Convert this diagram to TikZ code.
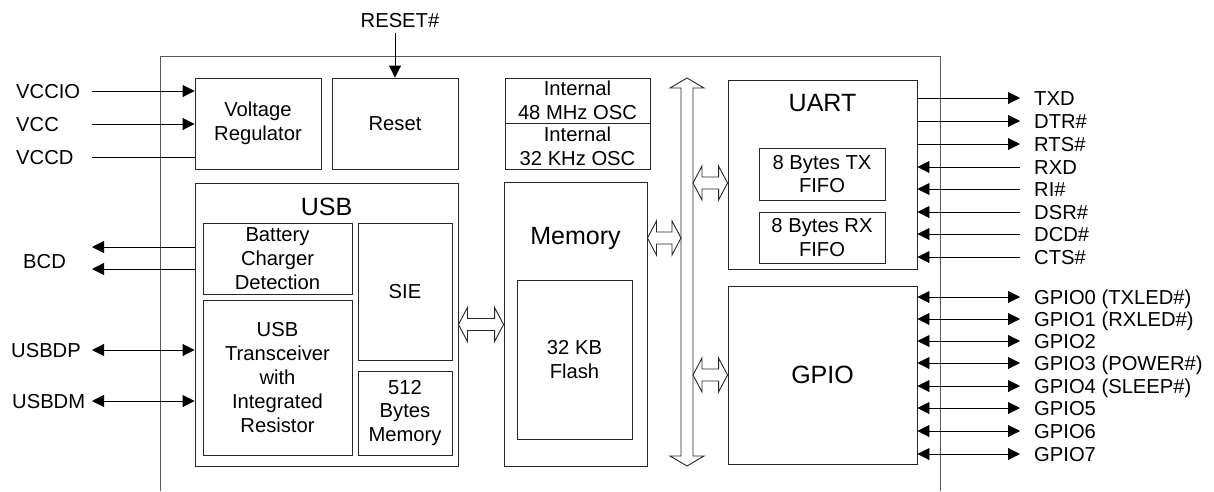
\documentclass[tikz,border=0pt]{standalone}
\usepackage{fontspec}
\setmainfont{Liberation Sans}
\usetikzlibrary{arrows.meta,calc}
\newcommand\fs{\fontsize{20.2}{23.8}\selectfont}
\newcommand\ft{\fontsize{25}{30}\selectfont}
\tikzset{
  box/.style={draw=black!85, line width=0.9pt, inner sep=0pt, align=center, font=\fs},
  ttl/.style={inner sep=0pt, font=\ft},
  lbl/.style={inner sep=0pt, font=\fs},
  sig/.style={line width=0.9pt, -{Triangle[length=12pt,width=12pt]}},
  bisig/.style={line width=0.9pt, {Triangle[length=12pt,width=12pt]}-{Triangle[length=12pt,width=12pt]}},
  plain/.style={line width=0.9pt},
  outer/.style={draw=black!65, line width=1pt},
  hollowarrow/.style={draw=black!85, line width=0.9pt, fill=white, line join=miter},
}
\newcommand\hollowH[2]{\draw[hollowarrow] let \p1=(#1), \p2=(#2) in
  (\x1,\y1) -- (\x1+9pt,\y1+17pt) -- (\x1+9pt,\y1+6pt) -- (\x2-9pt,\y1+6pt) -- (\x2-9pt,\y1+17pt)
  -- (\x2,\y1) -- (\x2-9pt,\y1-17pt) -- (\x2-9pt,\y1-6pt) -- (\x1+9pt,\y1-6pt) -- (\x1+9pt,\y1-17pt) -- cycle;}
\begin{document}
\begin{tikzpicture}[x=1pt,y=-1pt]
\useasboundingbox (0,0) rectangle (1214,491);
% chip outline (open at the bottom)
\draw[outer] (160,491) -- (160,56) -- (940,56) -- (940,491);

% boxes
\node[box, minimum width=126pt, minimum height=91pt] (vr) at (258,123.5) {Voltage\\Regulator};
\node[box, minimum width=126pt, minimum height=91pt] (rst) at (395,123.5) {Reset};
\node[box, minimum width=145pt, minimum height=45pt] (osc48) at (577.5,100.5) {Internal\\48 MHz OSC};
\node[box, minimum width=145pt, minimum height=46pt] (osc32) at (577.5,146) {Internal\\32 KHz OSC};

\node[box, minimum width=263pt, minimum height=283pt] (usb) at (326.5,324.5) {};
\node[ttl] (usbt) at (326.5,207) {USB};
\node[box, minimum width=149pt, minimum height=71pt] (bcd) at (277.5,258.5) {Battery\\Charger\\Detection};
\node[box, minimum width=149pt, minimum height=155pt] (xcvr) at (277.5,377.5) {USB\\Transceiver\\with\\Integrated\\Resistor};
\node[box, minimum width=94pt, minimum height=137pt] (sie) at (405,291.5) {SIE};
\node[box, minimum width=94pt, minimum height=84pt] (m512) at (405,413) {512\\Bytes\\Memory};

\node[box, minimum width=143pt, minimum height=284pt] (mem) at (575.5,324) {};
\node[ttl] (memt) at (575.5,238) {Memory};
\node[box, minimum width=115pt, minimum height=159pt] (flash) at (574.5,359.5) {32 KB\\Flash};

\node[box, minimum width=189pt, minimum height=189pt] (uart) at (822.5,174.5) {};
\node[ttl] (uartt) at (822.5,103) {UART};
\node[box, minimum width=126pt, minimum height=52pt] (txf) at (822,174) {8 Bytes TX\\FIFO};
\node[box, minimum width=126pt, minimum height=51pt] (rxf) at (822,237.5) {8 Bytes RX\\FIFO};

\node[box, minimum width=189pt, minimum height=178pt, font=\ft] (gpio) at (822.5,375) {GPIO};

% internal bus
\coordinate (bustop) at (687,78);
\coordinate (busbot) at (687,466);
\draw[hollowarrow] let \p1=(bustop), \p2=(busbot) in
  (\x1,\y1) -- (\x1+17pt,\y1-10pt) -- (\x1+6pt,\y1-10pt) -- (\x2+6pt,\y2+10pt) -- (\x2+17pt,\y2+10pt)
  -- (\x2,\y2) -- (\x2-17pt,\y2+10pt) -- (\x2-6pt,\y2+10pt) -- (\x1-6pt,\y1-10pt) -- (\x1-17pt,\y1-10pt) -- cycle;
\coordinate (b1) at (681,238);
\coordinate (b2) at (693,183);
\coordinate (b3) at (693,375);
\hollowH{usb.east}{mem.west|-usb.east}
\hollowH{mem.east|-b1}{b1}
\hollowH{b2}{uart.west|-b2}
\hollowH{b3}{gpio.west|-b3}

% RESET#
\node[lbl] (treset) at (400,21) {RESET\#};
\coordinate (rsrc) at (395,33);
\draw[sig] (rsrc) -- (rst.north);

% power inputs
\node[lbl, anchor=base west] (tvccio) at (16,98) {VCCIO};
\node[lbl, anchor=base west] (tvcc) at (16,131) {VCC};
\node[lbl, anchor=base west] (tvccd) at (16,164) {VCCD};
\coordinate (pvccio) at (92,91);
\coordinate (pvcc) at (92,124);
\coordinate (pvccd) at (92,157);
\draw[sig] (pvccio) -- (pvccio -| vr.west);
\draw[sig] (pvcc) -- (pvcc -| vr.west);
\draw[plain] (pvccd) -- (pvccd -| vr.west);

% BCD
\node[lbl, anchor=base west] (tbcd) at (23,268) {BCD};
\coordinate (pbcd1) at (92,247);
\coordinate (pbcd2) at (92,269);
\draw[sig] (pbcd1 -| usb.west) -- (pbcd1);
\draw[sig] (pbcd2 -| usb.west) -- (pbcd2);

% USB data
\node[lbl, anchor=base west] (tdp) at (11,357) {USBDP};
\node[lbl, anchor=base west] (tdm) at (12,408) {USBDM};
\coordinate (pdp) at (92,350);
\coordinate (pdm) at (92,401);
\draw[bisig] (pdp) -- (pdp -| usb.west);
\draw[bisig] (pdm) -- (pdm -| usb.west);

% UART signals
\foreach \n/\y/\t in {txd/98/TXD, dtr/121/DTR\#, rts/144/RTS\#}{
  \coordinate (p\n) at (1020,\y);
  \node[lbl, anchor=base west] (t\n) at (1034,\y+7) {\t};
  \draw[sig] (p\n -| uart.east) -- (p\n);
}
\foreach \n/\y/\t in {rxd/167/RXD, ri/189/RI\#, dsr/212/DSR\#, dcd/234/DCD\#, cts/257/CTS\#}{
  \coordinate (p\n) at (1020,\y);
  \node[lbl, anchor=base west] (t\n) at (1034,\y+7) {\t};
  \draw[sig] (p\n) -- (p\n -| uart.east);
}
% GPIO signals
\foreach \n/\y/\t in {g0/297/GPIO0 (TXLED\#), g1/319/GPIO1 (RXLED\#), g2/341/GPIO2, g3/363/GPIO3 (POWER\#), g4/386/GPIO4 (SLEEP\#), g5/408/GPIO5, g6/431/GPIO6, g7/454/GPIO7}{
  \coordinate (p\n) at (1020,\y);
  \node[lbl, anchor=base west] (t\n) at (1034,\y+7) {\t};
  \draw[bisig] (p\n -| gpio.east) -- (p\n);
}
\end{tikzpicture}
\end{document}
